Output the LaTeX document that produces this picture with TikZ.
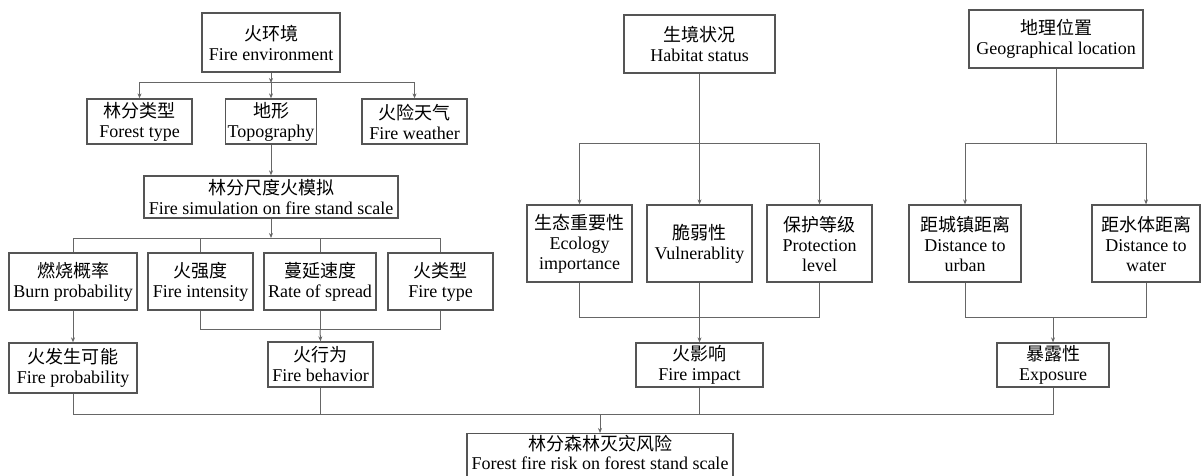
\documentclass[tikz,border=0pt]{standalone}
\usepackage{fontspec}
\setmainfont{Liberation Serif}
\newfontfamily\cjk{Noto Sans CJK SC}
\usetikzlibrary{arrows.meta}
\definecolor{boxline}{HTML}{555555}
\definecolor{conn}{HTML}{666666}
\begin{document}
\begin{tikzpicture}[x=1pt,y=-1pt,
  box/.style={draw=boxline,line width=1.3pt,inner sep=0pt,align=center,
    font=\fontsize{18}{20}\selectfont},
  ln/.style={draw=conn,line width=1pt},
  arr/.style={ln,-{Stealth[length=5pt,width=4pt]}}]
\useasboundingbox (0,0) rectangle (1201,476);
% left tree
\node[box,minimum width=138pt,minimum height=59pt] (env) at (271,42.5) {{\cjk 火环境}\\Fire environment};
\node[box,minimum width=105pt,minimum height=45pt] (ftype) at (139.5,121.5) {{\cjk 林分类型}\\Forest type};
\node[box,minimum width=91pt,minimum height=45pt] (topo) at (271,121.5) {{\cjk 地形}\\Topography};
\node[box,minimum width=105pt,minimum height=45pt] (weather) at (414.5,121.5) {{\cjk 火险天气}\\Fire weather};
\node[box,minimum width=254pt,minimum height=42pt] (sim) at (271,197) {{\cjk 林分尺度火模拟}\\Fire simulation on fire stand scale};
\node[box,minimum width=128pt,minimum height=57pt] (burn) at (73,281.5) {{\cjk 燃烧概率}\\Burn probability};
\node[box,minimum width=105pt,minimum height=57pt] (inten) at (200.5,281.5) {{\cjk 火强度}\\Fire intensity};
\node[box,minimum width=112pt,minimum height=57pt] (ros) at (320,281.5) {{\cjk 蔓延速度}\\Rate of spread};
\node[box,minimum width=105pt,minimum height=57pt] (ftp) at (440.5,281.5) {{\cjk 火类型}\\Fire type};
\node[box,minimum width=128pt,minimum height=50pt] (fprob) at (73,368) {{\cjk 火发生可能}\\Fire probability};
\node[box,minimum width=105pt,minimum height=45pt] (fbeh) at (320.5,364.5) {{\cjk 火行为}\\Fire behavior};
% middle tree
\node[box,minimum width=151pt,minimum height=58pt] (hab) at (699.5,44) {{\cjk 生境状况}\\Habitat status};
\node[box,minimum width=105pt,minimum height=77pt] (eco) at (579.5,243.5) {{\cjk 生态重要性}\\Ecology\\importance};
\node[box,minimum width=105pt,minimum height=77pt] (vul) at (699.5,243.5) {{\cjk 脆弱性}\\Vulnerablity};
\node[box,minimum width=105pt,minimum height=77pt] (prot) at (819.5,243.5) {{\cjk 保护等级}\\Protection\\level};
\node[box,minimum width=127pt,minimum height=44pt] (imp) at (699.5,365) {{\cjk 火影响}\\Fire impact};
% right tree
\node[box,minimum width=174pt,minimum height=58pt] (geo) at (1056,39) {{\cjk 地理位置}\\Geographical location};
\node[box,minimum width=112pt,minimum height=77pt] (urb) at (965,243.5) {{\cjk 距城镇距离}\\Distance to\\urban};
\node[box,minimum width=108pt,minimum height=77pt] (wat) at (1146,243.5) {{\cjk 距水体距离}\\Distance to\\water};
\node[box,minimum width=112pt,minimum height=44pt] (expo) at (1053,365) {{\cjk 暴露性}\\Exposure};
% bottom
\node[box,minimum width=266pt,inner ysep=1.5pt,anchor=north,text depth=12pt,
  font=\fontsize{18}{19}\selectfont] (risk) at (600,433) {{\cjk 林分森林灭灾风险}\\Forest fire risk on forest stand scale};
% junctions
\coordinate (j1) at (271,83);
\coordinate (j2) at (271,238);
\coordinate (j3) at (320,329);
\coordinate (j4) at (699.5,143);
\coordinate (j5) at (699.5,317);
\coordinate (j6) at (1056,143);
\coordinate (j7) at (1053,317);
\coordinate (j8) at (600,414);
% connectors left
\draw[arr] (env.south) -- (j1);
\draw[arr] (j1) -| (ftype.north);
\draw[arr] (j1) -- (topo.north);
\draw[arr] (j1) -| (weather.north);
\draw[arr] (topo.south) -- (sim.north);
\draw[arr] (sim.south) -- (j2);
\draw[ln] (j2) -| (burn.north);
\draw[ln] (j2) -| (inten.north);
\draw[ln] (j2) -| (ros.north);
\draw[ln] (j2) -| (ftp.north);
\draw[arr] (burn.south) -- (fprob.north);
\draw[ln] (inten.south) |- (j3);
\draw[ln] (ftp.south) |- (j3);
\draw[ln] (ros.south) -- (j3);
\draw[arr] (j3) -- (fbeh.north);
% connectors middle
\draw[ln] (hab.south) -- (j4);
\draw[arr] (j4) -| (eco.north);
\draw[arr] (j4) -- (vul.north);
\draw[arr] (j4) -| (prot.north);
\draw[ln] (eco.south) |- (j5);
\draw[ln] (prot.south) |- (j5);
\draw[ln] (vul.south) -- (j5);
\draw[arr] (j5) -- (imp.north);
% connectors right
\draw[ln] (geo.south) -- (j6);
\draw[arr] (j6) -| (urb.north);
\draw[arr] (j6) -| (wat.north);
\draw[ln] (urb.south) |- (j7);
\draw[ln] (wat.south) |- (j7);
\draw[arr] (j7) -- (expo.north);
% bottom
\draw[ln] (fprob.south) |- (j8);
\draw[ln] (fbeh.south) |- (j8);
\draw[ln] (imp.south) |- (j8);
\draw[ln] (expo.south) |- (j8);
\draw[arr] (j8) -- (risk.north);
\end{tikzpicture}
\end{document}
